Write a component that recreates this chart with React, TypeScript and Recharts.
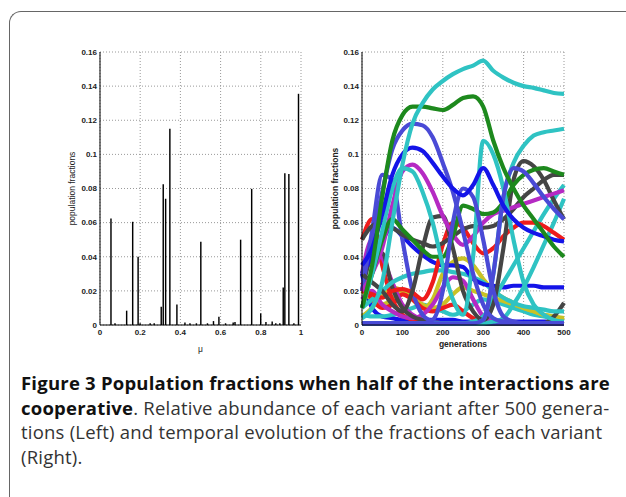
import { BarChart, Bar, LineChart, Line, XAxis, YAxis, CartesianGrid } from 'recharts';

// left panel: fraction of each variant after 500 generations
const muValues = [0.055, 0.075, 0.133, 0.163, 0.19, 0.2, 0.25, 0.27, 0.305, 0.315, 0.327, 0.348, 0.383, 0.423, 0.448, 0.48, 0.502, 0.535, 0.565, 0.592, 0.625, 0.663, 0.672, 0.7, 0.755, 0.8, 0.826, 0.857, 0.875, 0.895, 0.912, 0.92, 0.94, 0.965, 0.988];
const muFractions = [0.0624, 0.001, 0.0084, 0.0605, 0.04, 0.001, 0.001, 0.001, 0.0107, 0.0825, 0.074, 0.115, 0.012, 0.0015, 0.001, 0.001, 0.0488, 0.001, 0.0023, 0.0049, 0.001, 0.0015, 0.0017, 0.05, 0.0798, 0.0068, 0.0018, 0.002, 0.001, 0.001, 0.022, 0.089, 0.0885, 0.001, 0.1355];
const muTicks = [0, 0.2, 0.4, 0.6, 0.8, 1];
const fracTicks = [0, 0.02, 0.04, 0.06, 0.08, 0.1, 0.12, 0.14, 0.16];

// right panel: time evolution, sampled every 25 generations
const generations = [0, 25, 50, 75, 100, 125, 150, 175, 200, 225, 250, 275, 300, 325, 350, 375, 400, 425, 450, 475, 500];
const genTicks = [0, 100, 200, 300, 400, 500];

const greenBottom = [0.001, 0.001, 0.001, 0.001, 0.001, 0.001, 0.001, 0.001, 0.001, 0.001, 0.001, 0.001, 0.001, 0.001, 0.001, 0.001, 0.001, 0.001, 0.001, 0.001, 0.001];
const blueLow = [0.03, 0.01, 0.005, 0.004, 0.003, 0.003, 0.003, 0.003, 0.003, 0.003, 0.002, 0.002, 0.002, 0.002, 0.002, 0.002, 0.002, 0.002, 0.002, 0.002, 0.002];
const cyanLow = [0.006, 0.005, 0.005, 0.006, 0.008, 0.01, 0.012, 0.01, 0.008, 0.006, 0.008, 0.012, 0.015, 0.014, 0.012, 0.01, 0.008, 0.006, 0.005, 0.004, 0.004];
const yellowA = [0.02, 0.015, 0.012, 0.015, 0.02, 0.015, 0.01, 0.015, 0.03, 0.037, 0.039, 0.035, 0.027, 0.02, 0.016, 0.013, 0.01, 0.008, 0.006, 0.005, 0.004];
const yellowB = [0.005, 0.01, 0.018, 0.022, 0.02, 0.016, 0.012, 0.01, 0.012, 0.018, 0.022, 0.02, 0.018, 0.016, 0.014, 0.012, 0.01, 0.008, 0.006, 0.005, 0.003];
const redLow = [0.025, 0.015, 0.01, 0.012, 0.018, 0.015, 0.01, 0.008, 0.01, 0.012, 0.008, 0.004, 0.002, 0.001, 0.001, 0.001, 0.001, 0.001, 0.001, 0.001, 0.001];
const redEarly = [0.05, 0.062, 0.035, 0.015, 0.006, 0.003, 0.002, 0.001, 0.001, 0.001, 0.001, 0.001, 0.001, 0.001, 0.001, 0.001, 0.001, 0.001, 0.001, 0.001, 0.001];
const magentaEarly = [0.03, 0.05, 0.04, 0.025, 0.012, 0.006, 0.003, 0.002, 0.001, 0.001, 0.001, 0.001, 0.001, 0.001, 0.001, 0.001, 0.001, 0.001, 0.001, 0.001, 0.001];
const magentaLow = [0.015, 0.02, 0.012, 0.008, 0.005, 0.004, 0.006, 0.012, 0.022, 0.028, 0.026, 0.015, 0.005, 0.002, 0.001, 0.001, 0.001, 0.001, 0.001, 0.001, 0.001];
const grayEarly = [0.02, 0.04, 0.042, 0.022, 0.01, 0.005, 0.003, 0.002, 0.001, 0.001, 0.001, 0.001, 0.001, 0.001, 0.001, 0.001, 0.001, 0.001, 0.001, 0.001, 0.001];
const grayEnd = [0.001, 0.001, 0.001, 0.001, 0.001, 0.001, 0.001, 0.001, 0.001, 0.001, 0.001, 0.001, 0.001, 0.001, 0.001, 0.001, 0.001, 0.001, 0.001, 0.005, 0.013];
const cyanFlat = [0.01, 0.015, 0.02, 0.025, 0.028, 0.03, 0.031, 0.032, 0.032, 0.031, 0.03, 0.028, 0.025, 0.02, 0.016, 0.013, 0.011, 0.01, 0.009, 0.008, 0.008];
const blueMid = [0.03, 0.04, 0.05, 0.057, 0.052, 0.046, 0.041, 0.037, 0.035, 0.035, 0.034, 0.027, 0.024, 0.023, 0.022, 0.023, 0.023, 0.023, 0.022, 0.022, 0.022];
const blueEarly = [0.02, 0.055, 0.088, 0.085, 0.05, 0.02, 0.006, 0.002, 0.001, 0.001, 0.001, 0.001, 0.001, 0.001, 0.001, 0.001, 0.001, 0.001, 0.001, 0.001, 0.001];
const cyanEndB = [0.001, 0.001, 0.001, 0.001, 0.001, 0.001, 0.001, 0.001, 0.001, 0.001, 0.001, 0.002, 0.005, 0.015, 0.025, 0.035, 0.045, 0.055, 0.065, 0.074, 0.082];
const cyanEndC = [0.001, 0.001, 0.001, 0.001, 0.001, 0.001, 0.001, 0.001, 0.001, 0.001, 0.001, 0.001, 0.001, 0.002, 0.004, 0.012, 0.022, 0.034, 0.047, 0.06, 0.074];
const redMain = [0.02, 0.018, 0.016, 0.02, 0.021, 0.019, 0.015, 0.025, 0.047, 0.06, 0.057, 0.048, 0.042, 0.045, 0.052, 0.057, 0.06, 0.06, 0.058, 0.054, 0.05];
const grayA = [0.03, 0.025, 0.02, 0.012, 0.008, 0.02, 0.045, 0.063, 0.064, 0.045, 0.02, 0.008, 0.003, 0.012, 0.045, 0.085, 0.096, 0.093, 0.085, 0.073, 0.062];
const grayB = [0.05, 0.058, 0.06, 0.057, 0.053, 0.05, 0.048, 0.046, 0.048, 0.052, 0.056, 0.058, 0.057, 0.058, 0.062, 0.068, 0.075, 0.08, 0.085, 0.088, 0.088];
const magentaMain = [0.02, 0.03, 0.045, 0.07, 0.09, 0.094, 0.089, 0.078, 0.064, 0.053, 0.047, 0.052, 0.06, 0.065, 0.067, 0.069, 0.071, 0.073, 0.075, 0.077, 0.079];
const greenMid = [0.01, 0.03, 0.05, 0.062, 0.056, 0.05, 0.044, 0.04, 0.04, 0.052, 0.07, 0.068, 0.065, 0.066, 0.072, 0.082, 0.088, 0.091, 0.092, 0.09, 0.088];
const cyanHollow = [0.01, 0.03, 0.055, 0.08, 0.092, 0.09, 0.078, 0.06, 0.035, 0.015, 0.006, 0.04, 0.108, 0.1, 0.08, 0.05, 0.025, 0.012, 0.006, 0.003, 0.002];
const cyanEndA = [0.001, 0.001, 0.001, 0.001, 0.001, 0.001, 0.001, 0.001, 0.001, 0.001, 0.001, 0.001, 0.003, 0.03, 0.075, 0.095, 0.105, 0.111, 0.113, 0.114, 0.115];
const blueHollowA = [0.03, 0.05, 0.078, 0.103, 0.114, 0.118, 0.117, 0.11, 0.095, 0.078, 0.055, 0.03, 0.012, 0.004, 0.002, 0.001, 0.001, 0.001, 0.001, 0.001, 0.001];
const blueHollowB = [0.001, 0.001, 0.001, 0.001, 0.001, 0.001, 0.001, 0.003, 0.02, 0.06, 0.08, 0.075, 0.05, 0.02, 0.005, 0.002, 0.001, 0.001, 0.001, 0.001, 0.001];
const blueHollowC = [0.001, 0.001, 0.001, 0.001, 0.001, 0.001, 0.001, 0.001, 0.001, 0.001, 0.001, 0.001, 0.003, 0.03, 0.075, 0.092, 0.09, 0.083, 0.075, 0.068, 0.062];
const blueMain = [0.035, 0.045, 0.065, 0.088, 0.1, 0.104, 0.102, 0.095, 0.087, 0.08, 0.076, 0.082, 0.092, 0.082, 0.07, 0.062, 0.057, 0.054, 0.052, 0.05, 0.049];
const greenTop = [0.01, 0.035, 0.075, 0.108, 0.123, 0.128, 0.128, 0.127, 0.126, 0.129, 0.133, 0.134, 0.128, 0.108, 0.092, 0.08, 0.07, 0.062, 0.054, 0.046, 0.04];
const cyanTop = [0.004, 0.01, 0.025, 0.06, 0.094, 0.118, 0.13, 0.138, 0.143, 0.147, 0.15, 0.152, 0.155, 0.149, 0.145, 0.142, 0.14, 0.139, 0.1375, 0.136, 0.1355];

const CYAN = '#2fc3c3';
const GREEN = '#1d891d';
const BLUE = '#1414e8';
const BLUE_O = '#4a4ad6';
const MAGENTA = '#b52ac3';
const RED = '#ee1b1b';
const GRAY = '#454545';
const YELLOW = '#c9c226';

const series = [
  { key: 'blueLow', values: blueLow, color: BLUE },
  { key: 'cyanLow', values: cyanLow, color: CYAN },
  { key: 'yellowA', values: yellowA, color: YELLOW },
  { key: 'yellowB', values: yellowB, color: YELLOW },
  { key: 'redLow', values: redLow, color: RED },
  { key: 'redEarly', values: redEarly, color: RED },
  { key: 'magentaEarly', values: magentaEarly, color: MAGENTA },
  { key: 'magentaLow', values: magentaLow, color: MAGENTA },
  { key: 'grayEarly', values: grayEarly, color: GRAY },
  { key: 'grayEnd', values: grayEnd, color: GRAY },
  { key: 'greenBottom', values: greenBottom, color: GREEN },
  { key: 'cyanFlat', values: cyanFlat, color: CYAN },
  { key: 'blueMid', values: blueMid, color: BLUE },
  { key: 'blueEarly', values: blueEarly, color: BLUE_O },
  { key: 'cyanEndB', values: cyanEndB, color: CYAN },
  { key: 'cyanEndC', values: cyanEndC, color: CYAN },
  { key: 'redMain', values: redMain, color: RED },
  { key: 'grayA', values: grayA, color: GRAY },
  { key: 'grayB', values: grayB, color: GRAY },
  { key: 'magentaMain', values: magentaMain, color: MAGENTA },
  { key: 'greenMid', values: greenMid, color: GREEN },
  { key: 'cyanHollow', values: cyanHollow, color: CYAN },
  { key: 'cyanEndA', values: cyanEndA, color: CYAN },
  { key: 'blueHollowA', values: blueHollowA, color: BLUE_O },
  { key: 'blueHollowB', values: blueHollowB, color: BLUE_O },
  { key: 'blueHollowC', values: blueHollowC, color: BLUE_O },
  { key: 'blueMain', values: blueMain, color: BLUE },
  { key: 'greenTop', values: greenTop, color: GREEN },
  { key: 'cyanTop', values: cyanTop, color: CYAN },
];

const barData = muValues.map((mu, i) => ({ mu, frac: muFractions[i] }));
const lineData = generations.map((g, i) => {
  const row: Record<string, number> = { g };
  series.forEach((s) => (row[s.key] = s.values[i]));
  return row;
});

const tickStyle = { fontFamily: 'Liberation Sans, Arial, sans-serif', fontSize: 8, fontWeight: 700, fill: '#222' };
const labelStyle = { fontFamily: 'Liberation Sans, Arial, sans-serif', fontSize: 8.5, fill: '#222', textAnchor: 'middle' as const };
const fmt = (v: number) => String(v);

const captionFont = '"Open Sans", sans-serif';

export default function App() {
  return (
    <div style={{ position: 'absolute', left: 0, top: 0, width: 626, height: 497, background: '#fff', overflow: 'hidden' }}>
      <div
        style={{
          position: 'absolute',
          left: 9,
          top: 11,
          width: 640,
          height: 520,
          borderTop: '1.3px solid #666',
          borderLeft: '1.3px solid #666',
          borderTopLeftRadius: 12,
        }}
      />

      <div style={{ position: 'absolute', left: 0, top: 0 }}>
        <BarChart width={312} height={360} data={barData} margin={{ top: 52, right: 11, bottom: 5, left: 0 }}>
          <CartesianGrid stroke="#999" strokeDasharray="1 2" />
          <XAxis
            dataKey="mu"
            type="number"
            domain={[0, 1]}
            ticks={muTicks}
            tickFormatter={fmt}
            tick={tickStyle}
            tickLine={false}
            tickSize={0}
            tickMargin={4}
            height={30}
            stroke="#000"
            label={{ value: 'μ', position: 'insideBottom', offset: 3, style: labelStyle }}
          />
          <XAxis xAxisId="top" orientation="top" type="number" domain={[0, 1]} ticks={muTicks} tick={false} tickLine={false} height={0} stroke="#000" />
          <YAxis
            domain={[0, 0.16]}
            ticks={fracTicks}
            tickFormatter={fmt}
            tick={tickStyle}
            tickLine={false}
            tickSize={0}
            tickMargin={3}
            width={100}
            stroke="#000"
            label={{ value: 'population fractions', angle: -90, position: 'insideLeft', offset: 72, style: labelStyle }}
          />
          <YAxis yAxisId="right" orientation="right" domain={[0, 0.16]} ticks={fracTicks} tick={false} tickLine={false} width={0} stroke="#000" />
          <Bar dataKey="frac" fill="#000" barSize={3.6} isAnimationActive={false} />
        </BarChart>
      </div>

      <div style={{ position: 'absolute', left: 310, top: 0 }}>
        <LineChart width={270} height={360} data={lineData} margin={{ top: 52, right: 16, bottom: 5, left: 0 }}>
          <CartesianGrid stroke="#999" strokeDasharray="1 2" />
          <XAxis
            dataKey="g"
            type="number"
            domain={[0, 500]}
            ticks={genTicks}
            tick={tickStyle}
            tickLine={false}
            tickSize={0}
            tickMargin={4}
            height={30}
            stroke="#000"
            label={{ value: 'generations', position: 'insideBottom', offset: 8, style: { ...labelStyle, fontWeight: 700 } }}
          />
          <XAxis xAxisId="top" orientation="top" type="number" domain={[0, 500]} ticks={genTicks} tick={false} tickLine={false} height={0} stroke="#000" />
          <YAxis
            domain={[0, 0.16]}
            ticks={fracTicks}
            tickFormatter={fmt}
            tick={tickStyle}
            tickLine={false}
            tickSize={0}
            tickMargin={3}
            width={52}
            stroke="#000"
            label={{ value: 'population fractions', angle: -90, position: 'insideLeft', offset: 25, style: { ...labelStyle, fontWeight: 700 } }}
          />
          <YAxis yAxisId="right" orientation="right" domain={[0, 0.16]} ticks={fracTicks} tick={false} tickLine={false} width={0} stroke="#000" />
          {series.map((s) => (
            <Line
              key={s.key}
              dataKey={s.key}
              type="monotone"
              stroke={s.color}
              strokeWidth={4.2}
              dot={false}
              isAnimationActive={false}
            />
          ))}
        </LineChart>
      </div>

      <div style={{ position: 'absolute', left: 21, top: 371, fontFamily: captionFont, fontSize: 18.5, lineHeight: '24.5px', color: '#333', whiteSpace: 'nowrap', letterSpacing: 0.22 }}>
        <div style={{ fontWeight: 700, color: '#111' }}>Figure 3 Population fractions when half of the interactions are</div>
        <div>
          <span style={{ fontWeight: 700, color: '#111' }}>cooperative</span>. Relative abundance of each variant after 500 genera-
        </div>
        <div>tions (Left) and temporal evolution of the fractions of each variant</div>
        <div>(Right).</div>
      </div>
    </div>
  );
}
